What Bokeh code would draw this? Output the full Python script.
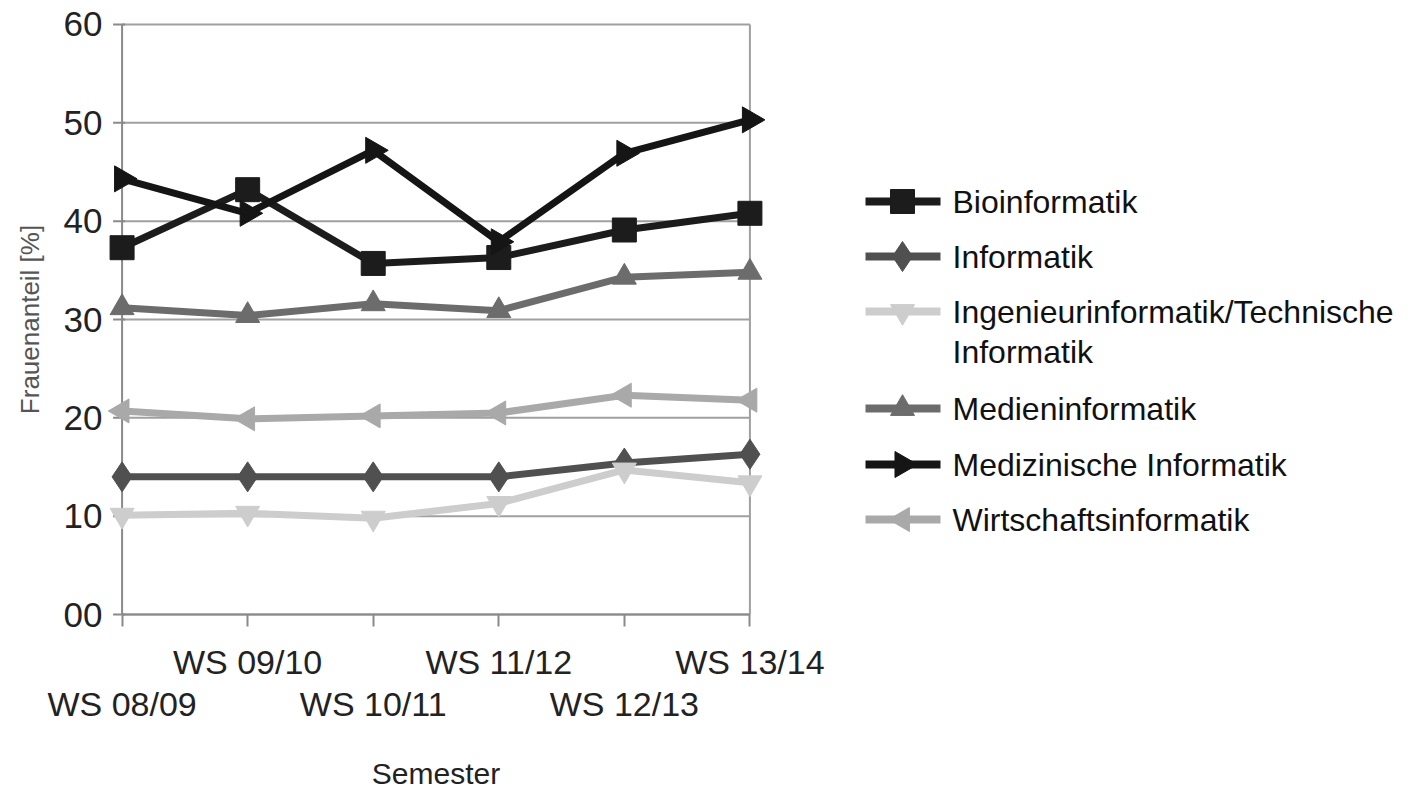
import math
from bokeh.plotting import figure
from bokeh.models import Range1d, FixedTicker, LinearAxis
from bokeh.layouts import row
from bokeh.core.properties import value
from bokeh.embed import file_html
from bokeh.resources import INLINE

semesters = ["WS 08/09", "WS 09/10", "WS 10/11", "WS 11/12", "WS 12/13", "WS 13/14"]
x_idx = [0, 1, 2, 3, 4, 5]
bioinformatik = [37.3, 43.2, 35.7, 36.3, 39.1, 40.8]
informatik = [14.0, 14.0, 14.0, 14.0, 15.4, 16.3]
ingenieur = [10.1, 10.3, 9.8, 11.3, 14.7, 13.4]
medien = [31.2, 30.4, 31.6, 30.9, 34.3, 34.8]
medizin = [44.3, 40.8, 47.2, 37.9, 46.9, 50.3]
wirtschaft = [20.7, 19.9, 20.2, 20.5, 22.3, 21.8]
y_ticks = [0, 10, 20, 30, 40, 50, 60]

series_names = ["Bioinformatik", "Informatik", "Ingenieurinformatik/Technische\nInformatik",
                "Medieninformatik", "Medizinische Informatik", "Wirtschaftsinformatik"]
series_values = [bioinformatik, informatik, ingenieur, medien, medizin, wirtschaft]

# styles
colors = ["#1c1c1c", "#505050", "#cdcdcd", "#6c6c6c", "#151515", "#a9a9a9"]
markers = ["square", "diamond", "inverted_triangle", "triangle", "triangle", "triangle"]
angles = [0.0, 0.0, 0.0, 0.0, -math.pi / 2, math.pi / 2]
sizes = [24, 30, 24, 24, 26, 24]

FONT = "Liberation Sans"
AX_COL = "#8a8a8a"
GRID_COL = "#a0a0a0"
XPAD, YPAD = 0.14, 0.3
x0, x1 = x_idx[0], x_idx[-1]
y0, y1 = y_ticks[0], y_ticks[-1]

p = figure(frame_width=663, frame_height=596, output_backend="svg", toolbar_location=None,
           x_range=Range1d(x0 - XPAD, x1 + XPAD), y_range=Range1d(y0 - YPAD, y1 + YPAD),
           min_border_left=104, min_border_top=21, min_border_right=83, min_border_bottom=178,
           x_axis_type=None)
p.outline_line_color = None
p.xgrid.visible = False
p.ygrid.visible = False

# grid lines, plot border and axis lines drawn within the data area
px_per_x = 663 / (x1 - x0 + 2 * XPAD)
p.segment(x0=[x0] * len(y_ticks), y0=y_ticks, x1=[x1] * len(y_ticks), y1=y_ticks,
          line_color=GRID_COL, line_width=2)
p.segment(x0=[x1], y0=[y0], x1=[x1], y1=[y1], line_color=GRID_COL, line_width=2)
p.segment(x0=[x0], y0=[y0], x1=[x0], y1=[y1], line_color=AX_COL, line_width=2)
p.segment(x0=[x0 - 9 / px_per_x] * len(y_ticks), y0=y_ticks,
          x1=[x0 + 3 / px_per_x] * len(y_ticks), y1=y_ticks, line_color=AX_COL, line_width=2)
p.segment(x0=[x0], y0=[y0], x1=[x1], y1=[y0], line_color=AX_COL, line_width=2)

ax = p.yaxis[0]
ax.ticker = FixedTicker(ticks=y_ticks)
ax.major_label_overrides = {0: "00"}
ax.axis_line_color = None
ax.major_tick_line_color = None
ax.major_tick_out = 0
ax.major_tick_in = 0
ax.minor_tick_line_color = None
ax.major_label_text_font = FONT
ax.major_label_text_font_size = "35px"
ax.major_label_text_color = "#222222"
ax.major_label_standoff = 2
ax.axis_label = "Frauenanteil [%]"
ax.axis_label_text_font = FONT
ax.axis_label_text_font_size = "26px"
ax.axis_label_text_font_style = "normal"
ax.axis_label_text_color = "#555555"
ax.axis_label_standoff = 16

xa = LinearAxis(ticker=FixedTicker(ticks=x_idx),
                major_label_overrides={i: (semesters[i] if i % 2 == 1 else " ") for i in x_idx})
xa.axis_line_color = None
xa.major_tick_line_color = AX_COL
xa.major_tick_line_width = 2
xa.major_tick_out = 9
xa.major_tick_in = 3
xa.minor_tick_line_color = None
xa.major_label_text_font = FONT
xa.major_label_text_font_size = "34px"
xa.major_label_text_color = "#222222"
xa.major_label_standoff = 16
p.add_layout(xa, "below")

xb = LinearAxis(ticker=FixedTicker(ticks=[0, 2, 4]),
                major_label_overrides={i: semesters[i] for i in [0, 2, 4]})
xb.axis_line_color = None
xb.major_tick_line_color = None
xb.minor_tick_line_color = None
xb.major_tick_out = 0
xb.major_tick_in = 0
xb.major_label_text_font = FONT
xb.major_label_text_font_size = "34px"
xb.major_label_text_color = "#222222"
xb.major_label_standoff = 1
xb.axis_label = "Semester"
xb.axis_label_text_font = FONT
xb.axis_label_text_font_size = "30px"
xb.axis_label_text_font_style = "normal"
xb.axis_label_text_color = "#222222"
xb.axis_label_standoff = 31
p.add_layout(xb, "below")

for vals, color, marker, ang, size in zip(series_values, colors, markers, angles, sizes):
    p.line(x_idx, vals, line_color=color, line_width=7)
    p.scatter(x_idx, vals, marker=marker, angle=ang, size=size, fill_color=color, line_color=color)

# legend panel: frame aligned with the main frame, coordinates = page pixels
LW = 569
lg = figure(width=LW, frame_height=596, output_backend="svg", toolbar_location=None,
            x_range=Range1d(0, LW), y_range=Range1d(617, 21),
            min_border_left=0, min_border_right=0, min_border_top=21, min_border_bottom=178,
            x_axis_location=None, y_axis_location=None)
lg.xgrid.visible = False
lg.ygrid.visible = False
lg.outline_line_color = None

row_y = [201, 256, 311, 408, 464, 519]
for yy, name, color, marker, ang, size in zip(row_y, series_names, colors, markers, angles, sizes):
    lg.segment(x0=[15], y0=[yy], x1=[90], y1=[yy], line_color=color, line_width=8)
    lg.scatter([52], [yy], marker=marker, angle=ang, size=size, fill_color=color, line_color=color)
    for k, line in enumerate(name.split("\n")):
        lg.text([102], [yy + 40 * k], text=[line], text_font=value(FONT), text_font_size="32px",
                text_color="#111111", text_baseline="middle", text_align="left")

layout = row(p, lg)
open("out.html", "w").write(file_html(layout, INLINE))
